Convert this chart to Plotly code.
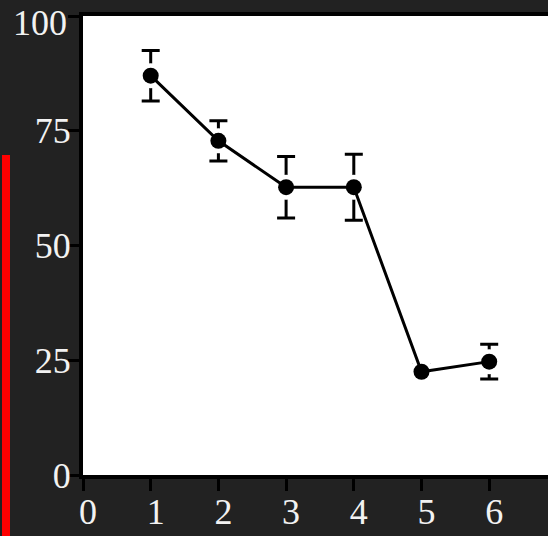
import plotly.graph_objects as go

# Measured response per time point (mean ± error)
time_points = [1, 2, 3, 4, 5, 6]
mean_values = [87.0, 72.8, 62.7, 62.7, 22.5, 24.7]
error_values = [5.5, 4.4, 6.7, 7.2, 1.5, 3.8]

x_ticks = [0, 1, 2, 3, 4, 5, 6]
y_ticks = [0, 25, 50, 75, 100]

W, H = 548, 536
L, R, T, B = 83, 0, 16, 61
px_per_x = 67.7
x_max = (W - L - R) / px_per_x

font = dict(family="Liberation Serif", size=36, color="#f2f2f2")

fig = go.Figure()

# error bars (drawn first, markers invisible)
fig.add_trace(go.Scatter(
    x=time_points, y=mean_values, mode="markers",
    marker=dict(size=1, color="rgba(0,0,0,0)"),
    error_y=dict(type="data", array=error_values, visible=True,
                 color="black", thickness=3, width=9),
    hoverinfo="skip", showlegend=False,
))
# white halo that leaves a small gap between bar stems and the points
fig.add_trace(go.Scatter(
    x=time_points, y=mean_values, mode="markers",
    marker=dict(size=25, color="white", line=dict(width=0)),
    hoverinfo="skip", showlegend=False,
))
# connecting line and points
fig.add_trace(go.Scatter(
    x=time_points, y=mean_values, mode="lines+markers",
    line=dict(color="black", width=3),
    marker=dict(size=16, color="black", line=dict(width=0)),
    showlegend=False,
))

# red bar at the left edge
fig.add_shape(
    type="rect", xref="paper", yref="paper",
    xsizemode="pixel", ysizemode="pixel", xanchor=0, yanchor=0,
    x0=2 - L, x1=10 - L, y0=-B - 2, y1=(H - B) - 155,
    fillcolor="#ff0000", line=dict(width=0), layer="above",
)

# the top y label sits a little lower so it stays inside the page
y_text = [str(v) for v in y_ticks]
top_label = y_text[-1]
y_text[-1] = ""
fig.add_annotation(
    x=0, xref="paper", y=y_ticks[-1], yref="y",
    text=top_label, showarrow=False, font=font,
    xanchor="right", yanchor="middle", xshift=-14, yshift=-7,
)

fig.update_layout(
    width=W, height=H,
    margin=dict(l=L, r=R, t=T, b=B, pad=0, autoexpand=False),
    paper_bgcolor="#222222", plot_bgcolor="white",
    font=font,
)
fig.update_xaxes(
    range=[0, x_max], tickvals=x_ticks, ticktext=[str(v) for v in x_ticks],
    showgrid=False, zeroline=False, automargin=False,
    showline=True, linecolor="black", linewidth=4, mirror=True,
    ticks="outside", ticklen=12, tickwidth=3, tickcolor="black",
    ticklabelshift=5, ticklabelstandoff=-10, ticklabeloverflow="allow", tickfont=font,
)
fig.update_yaxes(
    range=[0, 100], tickvals=y_ticks, ticktext=y_text,
    showgrid=False, zeroline=False, automargin=False,
    showline=True, linecolor="black", linewidth=4,
    ticks="outside", ticklen=11, tickwidth=3, tickcolor="black",
    ticklabelstandoff=-10, ticklabeloverflow="allow", tickfont=font,
)

fig.write_html("out.html")
